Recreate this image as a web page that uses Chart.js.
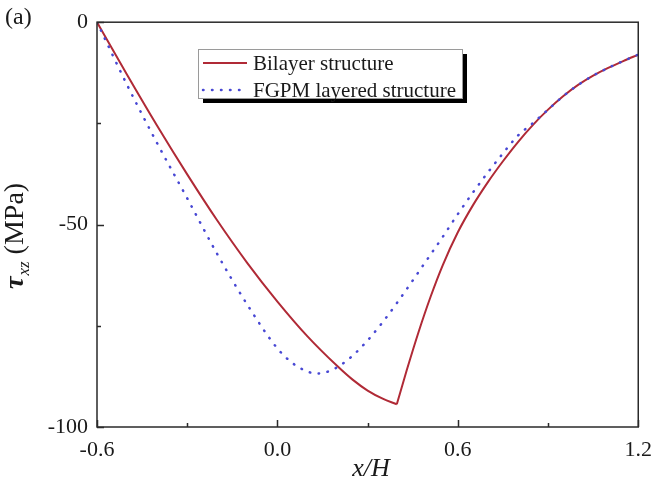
<!DOCTYPE html>
<html lang="en">
<head>
<meta charset="UTF-8" />
<title>Shear stress along x/H</title>
<script src="https://cdn.jsdelivr.net/npm/chart.js"></script>
<style>
  html, body { margin: 0; padding: 0; background: #fff; }
  #wrap { width: 662px; height: 483px; }
</style>
</head>
<body>
<div id="wrap"><canvas id="chart" width="662" height="483"></canvas></div>
<script>
  // tau_xz along x/H for the two structures
  const bilayerX = [-0.6, -0.5, -0.4, -0.3, -0.2, -0.1, 0, 0.1, 0.2, 0.25, 0.3, 0.35, 0.397,
                    0.43, 0.47, 0.51, 0.55, 0.6, 0.65, 0.7, 0.75, 0.8, 0.85, 0.9, 0.95, 1.0,
                    1.05, 1.1, 1.15, 1.2];
  const bilayerY = [0, -13.0, -25.6, -37.6, -49.0, -59.5, -69.0, -77.6, -85.0, -88.3, -91.0, -93.0, -94.4,
                    -86.0, -76.4, -67.7, -60.0, -51.9, -45.25, -39.5, -34.35, -29.6, -25.35, -21.6, -18.3, -15.5,
                    -13.2, -11.3, -9.6, -8.0];
  const fgpmX = [-0.6, -0.5, -0.4, -0.3, -0.2, -0.1, 0, 0.05, 0.1, 0.13, 0.16, 0.2, 0.25, 0.3, 0.35,
                 0.4, 0.45, 0.5, 0.55, 0.6, 0.65, 0.7, 0.75, 0.8, 0.85, 0.9, 0.95, 1.0, 1.05, 1.1,
                 1.15, 1.2];
  const fgpmY = [0, -15.5, -29.9, -43.5, -57.3, -69.8, -80.6, -84.2, -86.3, -86.8, -86.5, -85.2, -82.4,
                 -78.6, -74.1, -69.1, -63.8, -58.4, -53.0, -47.4, -42.1, -37.1, -32.4, -28.0, -24.9,
                 -21.6, -18.3, -15.5, -13.2, -11.3, -9.6, -8.0];

  const seriesNames = ['Bilayer structure', 'FGPM layered structure'];
  const xRange = [-0.6, 1.2];
  const yRange = [-100, 0];
  const xTickStep = 0.3;   // labelled every 0.6
  const yTickStep = 25;    // labelled every 50

  const RED = '#b02a36';
  const BLUE = '#4848d4';
  const INK = '#1a1a1a';
  const SERIF = '"Liberation Serif", "Times New Roman", serif';

  const toPoints = (xs, ys) => xs.map((x, i) => ({ x, y: ys[i] }));
  // split the bilayer curve at its kink so each branch stays monotone
  const kink = bilayerY.indexOf(Math.min(...bilayerY));
  const bilayerDown = toPoints(bilayerX.slice(0, kink + 1), bilayerY.slice(0, kink + 1));
  const bilayerUp = toPoints(bilayerX.slice(kink), bilayerY.slice(kink));

  const redLine = { borderColor: RED, borderWidth: 2, pointRadius: 0, cubicInterpolationMode: 'monotone', order: 1 };

  const framePlugin = {
    id: 'frame',
    afterDraw(chart) {
      const { ctx, chartArea: a, scales: { x, y } } = chart;
      ctx.save();

      // box + inward ticks
      ctx.strokeStyle = '#2a2a2a';
      ctx.lineWidth = 1.5;
      ctx.strokeRect(a.left, a.top, a.right - a.left, a.bottom - a.top);
      ctx.beginPath();
      x.ticks.forEach(t => {
        const px = Math.round(x.getPixelForValue(t.value)) + 0.5;
        ctx.moveTo(px, a.bottom);
        ctx.lineTo(px, a.bottom - (t.label ? 7 : 4));
      });
      y.ticks.forEach(t => {
        const py = Math.round(y.getPixelForValue(t.value)) + 0.5;
        ctx.moveTo(a.left, py);
        ctx.lineTo(a.left + (t.label ? 7 : 4), py);
      });
      ctx.stroke();

      ctx.fillStyle = INK;
      ctx.textBaseline = 'middle';

      // panel tag
      ctx.font = `24px ${SERIF}`;
      ctx.textAlign = 'left';
      ctx.fillText('(a)', 5, 18);

      // x title
      ctx.textAlign = 'center';
      ctx.font = `italic 26px ${SERIF}`;
      ctx.fillText('x/H', 371, 469);

      // y title, rotated: tau with xz subscript, then unit
      ctx.save();
      ctx.translate(23, 289);
      ctx.rotate(-Math.PI / 2);
      ctx.textAlign = 'left';
      ctx.textBaseline = 'alphabetic';
      ctx.font = `italic bold 28px ${SERIF}`;
      ctx.fillText('τ', 0, 0);
      let cx = ctx.measureText('τ').width + 1;
      ctx.font = `italic 17px ${SERIF}`;
      ctx.fillText('xz', cx, 6);
      cx += ctx.measureText('xz').width;
      ctx.font = `28px ${SERIF}`;
      ctx.fillText(' (MPa)', cx, 0);
      ctx.restore();

      // legend with drop shadow
      const lx = 198, ly = 49, lw = 264, lh = 49;
      ctx.fillStyle = '#000';
      ctx.fillRect(lx + 5, ly + 5, lw, lh);
      ctx.fillStyle = '#fff';
      ctx.fillRect(lx, ly, lw, lh);
      ctx.strokeStyle = '#9a9a9a';
      ctx.lineWidth = 1;
      ctx.strokeRect(lx + 0.5, ly + 0.5, lw, lh);

      const rows = [
        { label: seriesNames[0], color: RED, dash: [], width: 2, cap: 'butt' },
        { label: seriesNames[1], color: BLUE, dash: [0.5, 8.5], width: 2.5, cap: 'round' }
      ];
      rows.forEach((r, i) => {
        const ry = ly + 14 + i * 27;
        ctx.beginPath();
        ctx.strokeStyle = r.color;
        ctx.lineWidth = r.width;
        ctx.lineCap = r.cap;
        ctx.setLineDash(r.dash);
        ctx.moveTo(lx + 5, ry);
        ctx.lineTo(lx + 49, ry);
        ctx.stroke();
        ctx.setLineDash([]);
        ctx.fillStyle = INK;
        ctx.textAlign = 'left';
        ctx.textBaseline = 'middle';
        ctx.font = `21px ${SERIF}`;
        ctx.fillText(r.label, lx + 55, ry + 1);
      });

      ctx.restore();
    }
  };

  new Chart(document.getElementById('chart'), {
    type: 'line',
    data: {
      datasets: [
        { label: seriesNames[0], data: bilayerDown, ...redLine },
        { label: seriesNames[0], data: bilayerUp, ...redLine },
        {
          label: seriesNames[1], data: toPoints(fgpmX, fgpmY), order: 0,
          borderColor: BLUE, borderWidth: 2.5, borderDash: [0.5, 8.5], borderCapStyle: 'round',
          pointRadius: 0, cubicInterpolationMode: 'monotone'
        }
      ]
    },
    options: {
      responsive: false,
      animation: false,
      devicePixelRatio: 1,
      layout: { padding: { top: 19, right: 15, left: 0, bottom: 0 } },
      plugins: { legend: { display: false }, tooltip: { enabled: false } },
      scales: {
        x: {
          type: 'linear', min: xRange[0], max: xRange[1],
          grid: { display: false, drawTicks: false },
          border: { display: false },
          ticks: {
            stepSize: xTickStep, autoSkip: false, maxRotation: 0, padding: 10,
            color: INK, font: { family: SERIF, size: 22 },
            callback: v => Math.round(v * 10) % 6 === 0 ? v.toFixed(1) : ''
          },
          afterFit: s => { s.height = 56; }
        },
        y: {
          type: 'linear', min: yRange[0], max: yRange[1],
          grid: { display: false, drawTicks: false },
          border: { display: false },
          ticks: {
            stepSize: yTickStep, autoSkip: false, padding: 9,
            color: INK, font: { family: SERIF, size: 22 },
            callback: v => v % 50 === 0 ? String(v) : ''
          },
          afterFit: s => { s.width = 97; }
        }
      }
    },
    plugins: [framePlugin]
  });
</script>
</body>
</html>
